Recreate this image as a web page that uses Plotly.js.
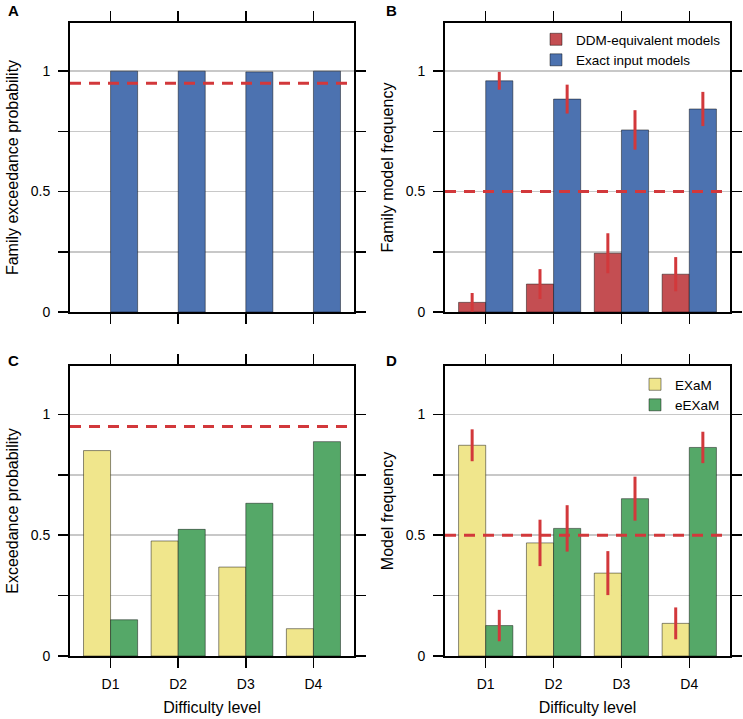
<!DOCTYPE html>
<html><head><meta charset="utf-8">
<script src="https://cdn.plot.ly/plotly-3.0.1.min.js"></script>
<style>body{margin:0;padding:0;background:#fff}#chart{width:743px;height:719px}</style>
</head><body><div id="chart"></div>
<script>
const categories = ['D1', 'D2', 'D3', 'D4'];
const familyExceedanceExact = [1.0, 1.0, 0.997, 1.0];
const familyFreqDDM = [0.040, 0.116, 0.244, 0.157];
const familyFreqDDMErr = [0.039, 0.062, 0.083, 0.071];
const familyFreqExact = [0.960, 0.884, 0.756, 0.843];
const familyFreqExactErr = [0.037, 0.060, 0.082, 0.071];
const exceedanceEXaM = [0.850, 0.476, 0.368, 0.113];
const exceedanceEEXaM = [0.150, 0.524, 0.632, 0.887];
const freqEXaM = [0.872, 0.468, 0.343, 0.135];
const freqEXaMErr = [0.066, 0.096, 0.091, 0.066];
const freqEEXaM = [0.126, 0.528, 0.651, 0.863];
const freqEEXaMErr = [0.065, 0.096, 0.091, 0.065];
const yTickVals = [0, 0.25, 0.5, 0.75, 1];
const yTickText = ['0', '', '0.5', '', '1'];
const thresholdExceedance = 0.95;
const thresholdFrequency = 0.5;

const FONT = 'Liberation Sans, Arial, Helvetica, sans-serif';
const BLUE = '#4c72b0', RED = '#c44e52', YELLOW = '#f0e68c', GREEN = '#55a868';
const ERR = '#d2383b', DASH = '#d2383b';
const EDGE = 'rgba(0,0,0,0.45)';

function errY(arr) {
  return {type: 'data', array: arr, visible: true, color: ERR, thickness: 3, width: 0};
}
function bar(x, y, name, color, xaxis, yaxis, offset, legend, showlegend, err) {
  const t = {
    type: 'bar', x: x, y: y, name: name, xaxis: xaxis, yaxis: yaxis,
    width: 0.4, offset: offset,
    marker: {color: color, line: {color: EDGE, width: 1}},
    showlegend: showlegend, hoverinfo: 'skip'
  };
  if (legend) t.legend = legend;
  if (err) t.error_y = errY(err);
  return t;
}

const traces = [
  bar(categories, familyExceedanceExact, 'Exact input models', BLUE, 'x', 'y', 0, null, false),
  bar(categories, familyFreqDDM, 'DDM-equivalent models', RED, 'x2', 'y2', -0.4, 'legend', true, familyFreqDDMErr),
  bar(categories, familyFreqExact, 'Exact input models', BLUE, 'x2', 'y2', 0, 'legend', true, familyFreqExactErr),
  bar(categories, exceedanceEXaM, 'EXaM', YELLOW, 'x3', 'y3', -0.4, null, false),
  bar(categories, exceedanceEEXaM, 'eEXaM', GREEN, 'x3', 'y3', 0, null, false),
  bar(categories, freqEXaM, 'EXaM', YELLOW, 'x4', 'y4', -0.4, 'legend2', true, freqEXaMErr),
  bar(categories, freqEEXaM, 'eEXaM', GREEN, 'x4', 'y4', 0, 'legend2', true, freqEEXaMErr)
];

function xAxis(domain, anchor, labels) {
  return {
    domain: domain, anchor: anchor, type: 'category', range: [-0.6, 3.6],
    showline: true, linecolor: '#000', linewidth: 2, mirror: 'allticks',
    ticks: 'outside', ticklen: 10, tickwidth: 1.5, tickcolor: '#000',
    showgrid: false, zeroline: false, showticklabels: labels,
    ticklabelstandoff: 4,
    tickfont: {family: FONT, size: 14, color: '#000'},
    title: labels ? {text: 'Difficulty level', font: {family: FONT, size: 16, color: '#000'}, standoff: 11} : {text: ''},
    fixedrange: true
  };
}
function yAxis(domain, anchor, title) {
  return {
    domain: domain, anchor: anchor, range: [0, 1.2],
    tickmode: 'array', tickvals: yTickVals, ticktext: yTickText,
    showline: true, linecolor: '#000', linewidth: 2, mirror: 'allticks',
    ticks: 'outside', ticklen: 10, tickwidth: 1.5, tickcolor: '#000',
    showgrid: true, gridcolor: '#c8c8c8', gridwidth: 1.5, zeroline: false,
    ticklabelstandoff: 5,
    tickfont: {family: FONT, size: 14, color: '#000'},
    title: {text: title, font: {family: FONT, size: 16, color: '#000'}, standoff: 8},
    fixedrange: true
  };
}

const W = 743, H = 719;
const dxL = [70 / W, 354 / W], dxR = [445 / W, 730 / W];
const dyT = [1 - 312 / H, 1 - 23 / H], dyB = [1 - 656 / H, 1 - 366 / H];

function dashLine(xref, yref, yv) {
  return {type: 'line', xref: xref + ' domain', yref: yref, x0: 0, x1: 1, y0: yv, y1: yv,
    line: {color: DASH, width: 3, dash: '11px,8px'}, layer: 'above'};
}
function letter(txt, xpx, ypx) {
  return {text: '<b>' + txt + '</b>', xref: 'paper', yref: 'paper', x: xpx / W, y: 1 - ypx / H,
    xanchor: 'left', yanchor: 'middle', showarrow: false, font: {family: FONT, size: 15, color: '#000'}};
}

const layout = {
  width: W, height: H, margin: {l: 0, r: 0, t: 0, b: 0},
  paper_bgcolor: '#fff', plot_bgcolor: '#fff',
  barmode: 'overlay', bargap: 0,
  xaxis: xAxis(dxL, 'y', false),
  yaxis: yAxis(dyT, 'x', 'Family exceedance probability'),
  xaxis2: xAxis(dxR, 'y2', false),
  yaxis2: yAxis(dyT, 'x2', 'Family model frequency'),
  xaxis3: xAxis(dxL, 'y3', true),
  yaxis3: yAxis(dyB, 'x3', 'Exceedance probability'),
  xaxis4: xAxis(dxR, 'y4', true),
  yaxis4: yAxis(dyB, 'x4', 'Model frequency'),
  shapes: [
    dashLine('x', 'y', thresholdExceedance),
    dashLine('x2', 'y2', thresholdFrequency),
    dashLine('x3', 'y3', thresholdExceedance),
    dashLine('x4', 'y4', thresholdFrequency)
  ],
  annotations: [letter('A', 6, 10), letter('B', 384, 10), letter('C', 6, 360), letter('D', 384, 360)],
  legend: {x: (576 - 40) / W, y: 1 - 24 / H, xanchor: 'left', yanchor: 'top', bgcolor: 'rgba(0,0,0,0)',
    font: {family: FONT, size: 13.5, color: '#000'}, traceorder: 'normal'},
  legend2: {x: (675 - 40) / W, y: 1 - 369 / H, xanchor: 'left', yanchor: 'top', bgcolor: 'rgba(0,0,0,0)',
    font: {family: FONT, size: 13.5, color: '#000'}, traceorder: 'normal'},
  showlegend: true
};

Plotly.newPlot('chart', traces, layout, {displayModeBar: false, staticPlot: true});
</script></body></html>
